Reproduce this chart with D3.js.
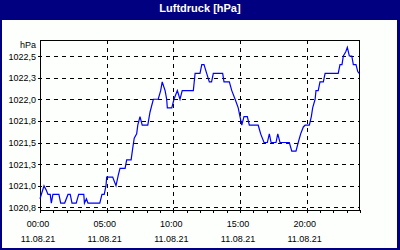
<!DOCTYPE html>
<html>
<head>
<meta charset="utf-8">
<script src="https://cdn.jsdelivr.net/npm/d3@7"></script>
<style>
  html, body { margin: 0; padding: 0; background: #000080; }
  svg { display: block; }
  text { font-family: 'Liberation Sans', Arial, sans-serif; font-size: 9px; fill: #000; }
</style>
</head>
<body>
<div id="chart"></div>
<script>
(function () {
  'use strict';

  /* readings: minutes after midnight and pressure in hPa */
  var minutes = [0, 18, 28, 36, 46, 51, 58, 85, 93, 111, 126, 136, 144, 163, 174, 197, 200, 209, 216, 269,
    279, 289, 297, 300, 327, 342, 352, 360, 383, 390, 410, 417, 424, 435, 440, 450, 460, 485, 495, 510,
    532, 543, 550, 563, 570, 573, 593, 603, 618, 630, 640, 690, 698, 720, 728, 738, 750, 762, 772, 780,
    822, 828, 852, 863, 878, 892, 900, 908, 918, 933, 942, 982, 993, 1008, 1023, 1032, 1040, 1062, 1070, 1080,
    1122, 1133, 1152, 1162, 1173, 1185, 1193, 1212, 1221, 1227, 1238, 1242, 1252, 1260, 1275, 1283, 1342, 1350, 1359, 1365,
    1376, 1383, 1392, 1403, 1410, 1422, 1430, 1436];
  var pressure = [1020.85, 1021.0, 1020.95, 1020.9, 1020.9, 1020.8, 1020.9, 1020.9, 1020.8, 1020.8, 1020.9, 1020.9, 1020.8, 1020.8, 1020.9, 1020.9, 1020.8, 1020.85, 1020.8, 1020.8,
    1020.9, 1020.9, 1021.0, 1021.1, 1021.1, 1021.0, 1021.12, 1021.2, 1021.2, 1021.3, 1021.3, 1021.43, 1021.55, 1021.6, 1021.7, 1021.8, 1021.7, 1021.7, 1021.85, 1022.0,
    1022.0, 1022.1, 1022.2, 1022.1, 1022.0, 1021.9, 1021.9, 1022.0, 1022.1, 1022.0, 1022.1, 1022.1, 1022.3, 1022.3, 1022.4, 1022.4, 1022.3, 1022.2, 1022.2, 1022.3,
    1022.3, 1022.2, 1022.2, 1022.1, 1022.0, 1021.9, 1021.8, 1021.7, 1021.8, 1021.8, 1021.7, 1021.7, 1021.6, 1021.5, 1021.5, 1021.6, 1021.5, 1021.5, 1021.6, 1021.5,
    1021.5, 1021.4, 1021.4, 1021.5, 1021.6, 1021.68, 1021.7, 1021.7, 1021.8, 1021.9, 1022.0, 1022.1, 1022.1, 1022.2, 1022.2, 1022.3, 1022.3, 1022.4, 1022.4, 1022.5,
    1022.55, 1022.6, 1022.5, 1022.5, 1022.4, 1022.4, 1022.32, 1022.3];

  var yTicks = [1020.75, 1021.0, 1021.25, 1021.5, 1021.75, 1022.0, 1022.25, 1022.5];
  var yTickLabels = ['1020,8', '1021,0', '1021,3', '1021,5', '1021,8', '1022,0', '1022,3', '1022,5'];
  var xTicks = [0, 5, 10, 15, 20];
  var xTimeLabels = ['00:00', '05:00', '10:00', '15:00', '20:00'];
  var dateLabel = '11.08.21';
  var title = 'Luftdruck [hPa]';
  var unit = 'hPa';

  var width = 400;
  var height = 250;
  var plot = { left: 40, right: 360, top: 40, bottom: 210 };

  var svg = d3.select('#chart').append('svg')
    .attr('width', width)
    .attr('height', height);

  /* frame */
  svg.append('rect')
    .attr('width', width)
    .attr('height', height)
    .attr('fill', '#000080');
  svg.append('rect')
    .attr('x', 2)
    .attr('y', 20)
    .attr('width', 395)
    .attr('height', 228)
    .attr('fill', '#fdfffd');

  svg.append('text')
    .attr('x', 200)
    .attr('y', 11.5)
    .attr('text-anchor', 'middle')
    .style('font-size', '11px')
    .style('font-weight', 'bold')
    .style('fill', '#fff')
    .text(title);

  var x = d3.scaleLinear()
    .domain([0, 24 * 60])
    .range([plot.left, plot.right]);

  var y = d3.scaleLinear()
    .domain([1020.72, 1022.685])
    .range([plot.bottom, plot.top]);

  function px(v) { return Math.round(v) + 0.5; }

  var grid = svg.append('g')
    .attr('stroke', '#000')
    .attr('stroke-dasharray', '4,4')
    .attr('shape-rendering', 'crispEdges');

  // horizontal grid, sticking out a little on the left as ticks
  grid.selectAll('.hgrid')
    .data(yTicks)
    .enter()
    .append('line')
    .attr('x1', plot.left - 2)
    .attr('x2', plot.right)
    .attr('y1', function (d) { return px(y(d)); })
    .attr('y2', function (d) { return px(y(d)); });

  grid.selectAll('.vgrid')
    .data(xTicks.slice(1))
    .enter()
    .append('line')
    .attr('x1', function (d) { return px(x(d * 60)); })
    .attr('x2', function (d) { return px(x(d * 60)); })
    .attr('y1', plot.top)
    .attr('y2', plot.bottom + 4);

  // hourly ticks under the axis
  svg.append('g')
    .attr('stroke', '#000')
    .attr('shape-rendering', 'crispEdges')
    .selectAll('line')
    .data(d3.range(0, 25))
    .enter()
    .append('line')
    .attr('x1', function (d) { return px(x(d * 60)); })
    .attr('x2', function (d) { return px(x(d * 60)); })
    .attr('y1', plot.bottom)
    .attr('y2', plot.bottom + 3);

  /* plot box */
  svg.append('rect')
    .attr('x', plot.left + 0.5)
    .attr('y', plot.top + 0.5)
    .attr('width', plot.right - plot.left - 1)
    .attr('height', plot.bottom - plot.top)
    .attr('fill', 'none')
    .attr('stroke', '#000')
    .attr('shape-rendering', 'crispEdges');

  var data = minutes.map(function (m, i) {
    return { t: m, v: pressure[i] };
  });

  var line = d3.line()
    .x(function (d) { return x(d.t); })
    .y(function (d) { return y(d.v); });

  svg.append('path')
    .datum(data)
    .attr('d', line)
    .attr('fill', 'none')
    .attr('stroke', '#0000ff')
    .attr('stroke-width', 1.2);

  /* y labels */
  svg.selectAll('.ylabel')
    .data(yTicks)
    .enter()
    .append('text')
    .attr('x', 36)
    .attr('y', function (d) { return y(d) + 3.5; })
    .attr('text-anchor', 'end')
    .text(function (d, i) { return yTickLabels[i]; });

  svg.append('text')
    .attr('x', 36)
    .attr('y', 47.5)
    .attr('text-anchor', 'end')
    .text(unit);

  /* x labels */
  var xl = svg.selectAll('.xlabel')
    .data(xTicks)
    .enter()
    .append('g')
    .attr('transform', function (d) { return 'translate(' + (x(d * 60) - 2) + ',0)'; });
  xl.append('text')
    .attr('y', 227)
    .attr('text-anchor', 'middle')
    .text(function (d, i) { return xTimeLabels[i]; });
  xl.append('text')
    .attr('y', 242)
    .attr('text-anchor', 'middle')
    .text(dateLabel);
}());
</script>
</body>
</html>
